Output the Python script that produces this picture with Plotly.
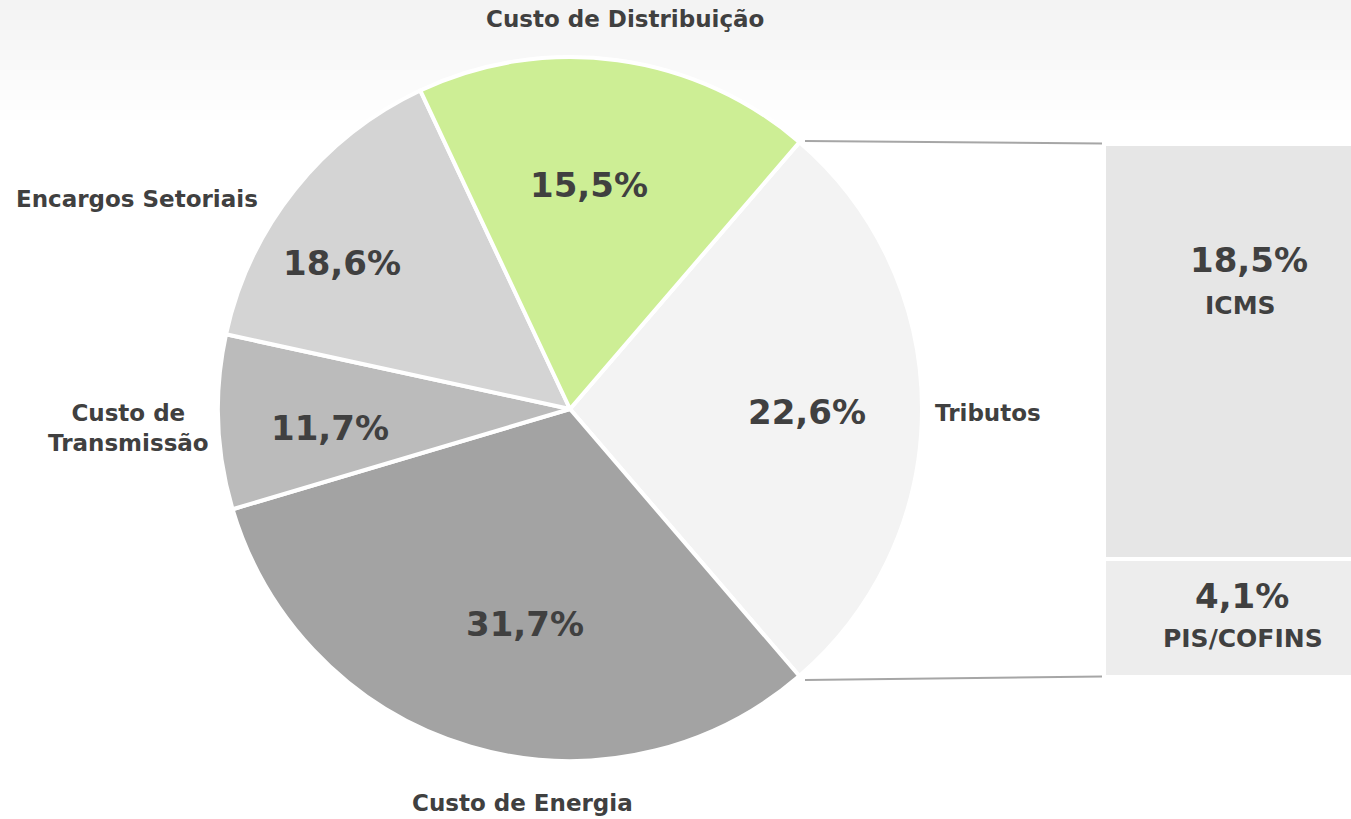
import plotly.graph_objects as go

W, H = 1351, 819

# ---- data ----
categories = ["Tributos", "Custo de Energia", "Custo de Transmissão", "Encargos Setoriais", "Custo de Distribuição"]
label_pct = ["22,6%", "31,7%", "11,7%", "18,6%", "15,5%"]          # printed labels
slice_share = [27.4, 31.7, 8.0, 14.6, 18.3]                          # slice sizes as drawn
slice_colors = ["#f3f3f3", "#a3a3a3", "#bbbbbb", "#d4d4d4", "#cdee95"]

tax_names = ["PIS/COFINS", "ICMS"]
tax_pct = ["4,1%", "18,5%"]
tax_share = [5.0, 17.6]                                               # box heights as drawn
tax_colors = ["#ededed", "#e6e6e6"]

outer_labels = ["Tributos", "Custo de Energia", "Custo de<br>Transmissão", "Encargos Setoriais", "Custo de Distribuição"]


def px(x):
    return x / W


def py(y):
    return 1 - y / H


TXT = "#404040"
FONT = "DejaVu Sans"

fig = go.Figure()

cx, cy, r = 570, 409, 352
fig.add_trace(go.Pie(
    labels=categories, values=slice_share, sort=False, direction="clockwise",
    rotation=40.7, textinfo="none", hoverinfo="label",
    marker=dict(colors=slice_colors, line=dict(color="white", width=4)),
    domain=dict(x=[px(cx - r), px(cx + r)], y=[py(cy + r), py(cy - r)]),
    showlegend=False,
))

for name, val, col in zip(tax_names, tax_share, tax_colors):
    fig.add_trace(go.Bar(
        x=[0], y=[val], width=[1], name=name, marker=dict(color=col, line=dict(color="white", width=4)),
        xaxis="x2", yaxis="y2", showlegend=False, hoverinfo="name",
    ))

box_left, box_w = 1104, 284
fig.update_layout(
    width=W, height=H, margin=dict(l=0, r=0, t=0, b=0),
    paper_bgcolor="white", plot_bgcolor="rgba(0,0,0,0)",
    barmode="stack",
    xaxis2=dict(domain=[px(box_left), 1], range=[-0.5, -0.5 + (W - box_left) / box_w],
                visible=False, fixedrange=True),
    yaxis2=dict(domain=[py(677), py(144)], range=[0, sum(tax_share)], visible=False, fixedrange=True),
    font=dict(family=FONT, color=TXT),
)

# faint background haze along the top edge
for i in range(12):
    fig.add_shape(type="rect", xref="paper", yref="paper", layer="below",
                  x0=0, x1=1, y0=py(10 * (i + 1)), y1=1,
                  fillcolor="rgba(210,210,210,0.022)", line=dict(width=0))

# connector lines
fig.add_shape(type="line", xref="paper", yref="paper", x0=px(805), y0=py(141), x1=px(1102), y1=py(143.5),
              line=dict(color="#a6a6a6", width=2))
fig.add_shape(type="line", xref="paper", yref="paper", x0=px(805), y0=py(680), x1=px(1102), y1=py(676.5),
              line=dict(color="#a6a6a6", width=2))


def label(text, x, y, size):
    fig.add_annotation(x=px(x), y=py(y), xref="paper", yref="paper", text=f"<b>{text}</b>",
                       xanchor="center", yanchor="middle", showarrow=False, align="center",
                       font=dict(size=size, family=FONT, color=TXT))


# outer category labels
outer_pos = [(988, 413), (522, 803), (128, 428), (137, 199), (625, 19)]
for t, (x, y) in zip(outer_labels, outer_pos):
    label(t, x, y, 23)

# percentage labels inside slices
pct_pos = [(807, 412), (525, 624), (330, 428), (342, 263), (589, 185)]
for t, (x, y) in zip(label_pct, pct_pos):
    label(t, x, y, 34)

# box labels
box_pct_pos = [(1242, 596), (1249, 260)]
box_name_pos = [(1243, 638), (1240, 305)]
for t, (x, y) in zip(tax_pct, box_pct_pos):
    label(t, x, y, 34)
for t, (x, y) in zip(tax_names, box_name_pos):
    label(t, x, y, 25)

fig.write_html("out.html", config={"displayModeBar": False})

# remove the default page margin so the figure fills the window exactly
with open("out.html", encoding="utf-8") as f:
    html = f.read()
html = html.replace("<head>", "<head><style>html,body{margin:0;padding:0;overflow:hidden;}</style>", 1)
with open("out.html", "w", encoding="utf-8") as f:
    f.write(html)
